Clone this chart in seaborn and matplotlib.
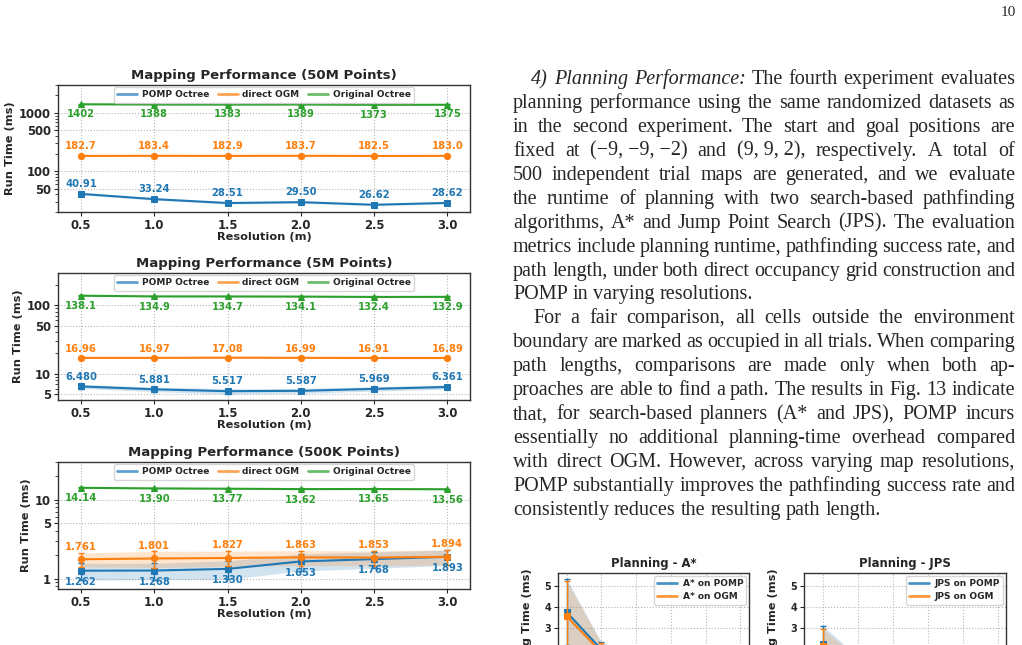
import matplotlib
matplotlib.use("Agg")
import matplotlib.pyplot as plt
from matplotlib.lines import Line2D
from matplotlib.ticker import NullFormatter
import seaborn as sns

sns.set_style("ticks")
plt.rcParams["font.family"] = ["DejaVu Sans"]

W, H = 1022, 645
BLUE, ORANGE, GREEN = "#1f77b4", "#ff7f0e", "#2ca02c"

resolution = [0.5, 1.0, 1.5, 2.0, 2.5, 3.0]
mapping_names = ["POMP Octree", "direct OGM", "Original Octree"]

# mapping run time (ms) - 50M points
pomp_50m = [40.91, 33.24, 28.51, 29.50, 26.62, 28.62]
ogm_50m = [182.7, 183.4, 182.9, 183.7, 182.5, 183.0]
octree_50m = [1402, 1388, 1383, 1389, 1373, 1375]
pomp_50m_sd = [1.6, 1.3, 1.1, 1.2, 1.0, 1.1]
ogm_50m_sd = [3.0, 3.0, 3.0, 3.0, 3.0, 3.0]
octree_50m_sd = [20, 20, 20, 20, 20, 20]

# 5M points
pomp_5m = [6.480, 5.881, 5.517, 5.587, 5.969, 6.361]
ogm_5m = [16.96, 16.97, 17.08, 16.99, 16.91, 16.89]
octree_5m = [138.1, 134.9, 134.7, 134.1, 132.4, 132.9]
pomp_5m_sd = [0.45, 0.45, 0.50, 0.45, 0.45, 0.45]
ogm_5m_sd = [0.35, 0.35, 0.35, 0.35, 0.35, 0.35]
octree_5m_sd = [2.5, 2.5, 2.5, 2.5, 2.5, 2.5]

# 500K points
pomp_500k = [1.262, 1.268, 1.330, 1.653, 1.768, 1.893]
ogm_500k = [1.761, 1.801, 1.827, 1.863, 1.853, 1.894]
octree_500k = [14.14, 13.90, 13.77, 13.62, 13.65, 13.56]
pomp_500k_sd = [0.30, 0.30, 0.35, 0.40, 0.42, 0.42]
ogm_500k_sd = [0.35, 0.42, 0.40, 0.40, 0.40, 0.40]
octree_500k_sd = [0.25, 0.25, 0.25, 0.25, 0.25, 0.25]

# planning time (ms), only the top part is visible
astar_pomp = [3.75, 1.95, 1.30, 1.00, 0.80, 0.70]
astar_ogm = [3.55, 1.82, 1.22, 0.95, 0.76, 0.66]
astar_pomp_sd = [1.60, 0.35, 0.25, 0.20, 0.15, 0.12]
astar_ogm_sd = [1.70, 0.45, 0.25, 0.20, 0.15, 0.12]
jps_pomp = [2.20, 1.20, 0.80, 0.60, 0.50, 0.45]
jps_ogm = [2.10, 1.15, 0.78, 0.58, 0.48, 0.43]
jps_pomp_sd = [0.90, 0.40, 0.25, 0.20, 0.15, 0.12]
jps_ogm_sd = [0.85, 0.40, 0.25, 0.20, 0.15, 0.12]
planning_yticks = [0, 1, 2, 3, 4, 5]
planning_ylabels = ["", "", "", "3", "4", "5"]

para1 = [
    "4) Planning Performance: The fourth experiment evaluates",
    "planning performance using the same randomized datasets as",
    "in the second experiment. The start and goal positions are",
    "fixed at (\u22129,\u00a0\u22129,\u00a0\u22122) and (9,\u00a09,\u00a02), respectively. A total of",
    "500 independent trial maps are generated, and we evaluate",
    "the runtime of planning with two search-based pathfinding",
    "algorithms, A* and Jump Point Search (JPS). The evaluation",
    "metrics include planning runtime, pathfinding success rate, and",
    "path length, under both direct occupancy grid construction and",
    "POMP in varying resolutions.",
]
para2 = [
    "For a fair comparison, all cells outside the environment",
    "boundary are marked as occupied in all trials. When comparing",
    "path lengths, comparisons are made only when both ap-",
    "proaches are able to find a path. The results in Fig. 13 indicate",
    "that, for search-based planners (A* and JPS), POMP incurs",
    "essentially no additional planning-time overhead compared",
    "with direct OGM. However, across varying map resolutions,",
    "POMP substantially improves the pathfinding success rate and",
    "consistently reduces the resulting path length.",
]

fig = plt.figure(figsize=(W / 100, H / 100), dpi=100)


def px_axes(left, top, right, bottom):
    return fig.add_axes([left / W, 1 - bottom / H, (right - left) / W, (bottom - top) / H])


def style_axes(ax, tick_size):
    ax.grid(True, which="major", linestyle=":", color="#b5b5b5", linewidth=0.8)
    ax.tick_params(labelsize=tick_size, length=3, pad=2)
    for lab in ax.get_xticklabels() + ax.get_yticklabels():
        lab.set_fontweight("bold")
    for s in ax.spines.values():
        s.set_color("#333333")
        s.set_linewidth(1.0)


def draw_series(ax, vals, sd, color, marker, ms):
    lo = [v - s for v, s in zip(vals, sd)]
    hi = [v + s for v, s in zip(vals, sd)]
    ax.fill_between(resolution, lo, hi, color=color, alpha=0.2, linewidth=0)
    ax.errorbar(resolution, vals, yerr=sd, fmt="none", ecolor=color,
                elinewidth=1, capsize=2.5, capthick=1)
    sns.lineplot(x=resolution, y=vals, ax=ax, color=color, marker=marker,
                 markersize=ms, markeredgecolor=color, linewidth=1.5, legend=False)


def mapping_panel(box, title, series, offsets, ylim, yticks):
    ax = px_axes(*box)
    ax.set_yscale("log")
    for (vals, sd, color, marker), dy in zip(series, offsets):
        draw_series(ax, vals, sd, color, marker, 4.5)
        for x, v in zip(resolution, vals):
            ax.annotate(f"{v:#.4g}".rstrip("."), (x, v), xytext=(0, dy),
                        textcoords="offset points", ha="center", va="center",
                        fontsize=7.2, fontweight="bold", color=color)
    ax.set_xlim(0.343, 3.155)
    ax.set_ylim(*ylim)
    ax.set_yticks(yticks, labels=[str(t) for t in yticks])
    ax.yaxis.set_minor_formatter(NullFormatter())
    ax.set_xticks(resolution, labels=[f"{r:.1f}" for r in resolution])
    style_axes(ax, 8.4)
    ax.set_title(title, fontsize=9.5, fontweight="bold", pad=4)
    ax.set_xlabel("Resolution (m)", fontsize=8.2, fontweight="bold", labelpad=0)
    ax.set_ylabel("Run Time (ms)", fontsize=8.2, fontweight="bold", labelpad=3)
    handles = [Line2D([], [], color=c, lw=2, alpha=0.7) for c in (BLUE, ORANGE, GREEN)]
    ax.legend(handles, mapping_names, loc="upper center", ncol=3,
              prop={"weight": "bold", "size": 6.5}, borderpad=0.35,
              handlelength=2.2, handletextpad=0.5, columnspacing=1.0,
              borderaxespad=0.25, framealpha=0.8)


mapping_panel((58, 85, 470, 212), "Mapping Performance (50M Points)",
              [(pomp_50m, pomp_50m_sd, BLUE, "s"), (ogm_50m, ogm_50m_sd, ORANGE, "o"),
               (octree_50m, octree_50m_sd, GREEN, "^")],
              [7, 7, -7], (20, 3000), [50, 100, 500, 1000])
mapping_panel((58, 273, 470, 400), "Mapping Performance (5M Points)",
              [(pomp_5m, pomp_5m_sd, BLUE, "s"), (ogm_5m, ogm_5m_sd, ORANGE, "o"),
               (octree_5m, octree_5m_sd, GREEN, "^")],
              [7, 6.5, -7.5], (4.1, 297), [5, 10, 50, 100])
mapping_panel((58, 462, 470, 589), "Mapping Performance (500K Points)",
              [(pomp_500k, pomp_500k_sd, BLUE, "s"), (ogm_500k, ogm_500k_sd, ORANGE, "o"),
               (octree_500k, octree_500k_sd, GREEN, "^")],
              [-8, 9, -7.5], (0.74, 30), [1, 5, 10])


def planning_panel(box, title, series, names, xlim):
    ax = px_axes(*box)
    for vals, sd, color in series:
        draw_series(ax, vals, sd, color, "s", 4)
    ax.set_xlim(*xlim)
    ax.set_ylim(0, 5.64)
    ax.set_xticks(resolution)
    # lower tick labels fall below the page edge
    ax.set_yticks(planning_yticks, labels=planning_ylabels)
    style_axes(ax, 7)
    ax.tick_params(axis="x", labelbottom=False)
    ax.set_title(title, fontsize=8.4, fontweight="bold", pad=4)
    ax.set_ylabel("Planning Time (ms)", fontsize=8.2, fontweight="bold", labelpad=9)
    handles = [Line2D([], [], color=c, lw=2, alpha=0.8) for c in (BLUE, ORANGE)]
    ax.legend(handles, names, loc="upper right", prop={"weight": "bold", "size": 6.5},
              borderpad=0.35, handlelength=2.2, handletextpad=0.6,
              borderaxespad=0.3, framealpha=0.8)


planning_panel((558, 573, 749, 690), "Planning - A*",
               [(astar_pomp, astar_pomp_sd, BLUE), (astar_ogm, astar_ogm_sd, ORANGE)],
               ["A* on POMP", "A* on OGM"], (0.375, 3.125))
planning_panel((804, 573, 1006, 690), "Planning - JPS",
               [(jps_pomp, jps_pomp_sd, BLUE), (jps_ogm, jps_ogm_sd, ORANGE)],
               ["JPS on POMP", "JPS on OGM"], (0.233, 3.11))

# body text of the page, justified by hand
TXT = 14.5
X0, X1 = 513, 1015
renderer = fig.canvas.get_renderer()


def put_line(line, y_px, indent, justify, italic_n=0):
    words = line.split(" ")
    texts = []
    for i, w in enumerate(words):
        t = fig.text(0, 1 - y_px / H, w, fontsize=TXT, family="Liberation Serif",
                     style="italic" if i < italic_n else "normal", va="baseline", ha="left")
        texts.append(t)
    widths = [t.get_window_extent(renderer).width for t in texts]
    start = X0 + indent
    natural = TXT / 72 * 100 * 0.25
    if justify and len(words) > 1:
        gap = max((X1 - start - sum(widths)) / (len(words) - 1), natural * 0.6)
    else:
        gap = natural
    x = start
    for t, w in zip(texts, widths):
        t.set_x(x / W)
        x += w + gap


y = 84
for i, line in enumerate(para1):
    put_line(line, y, 18 if i == 0 else 0, i < len(para1) - 1, 3 if i == 0 else 0)
    y += 23.94
for i, line in enumerate(para2):
    put_line(line, y, 20 if i == 0 else 0, i < len(para2) - 1)
    y += 23.94

fig.text(1016 / W, 1 - 12 / H, "10", ha="right", va="center",
         family="Liberation Serif", fontsize=11)

fig.savefig("out.png", dpi=100)
